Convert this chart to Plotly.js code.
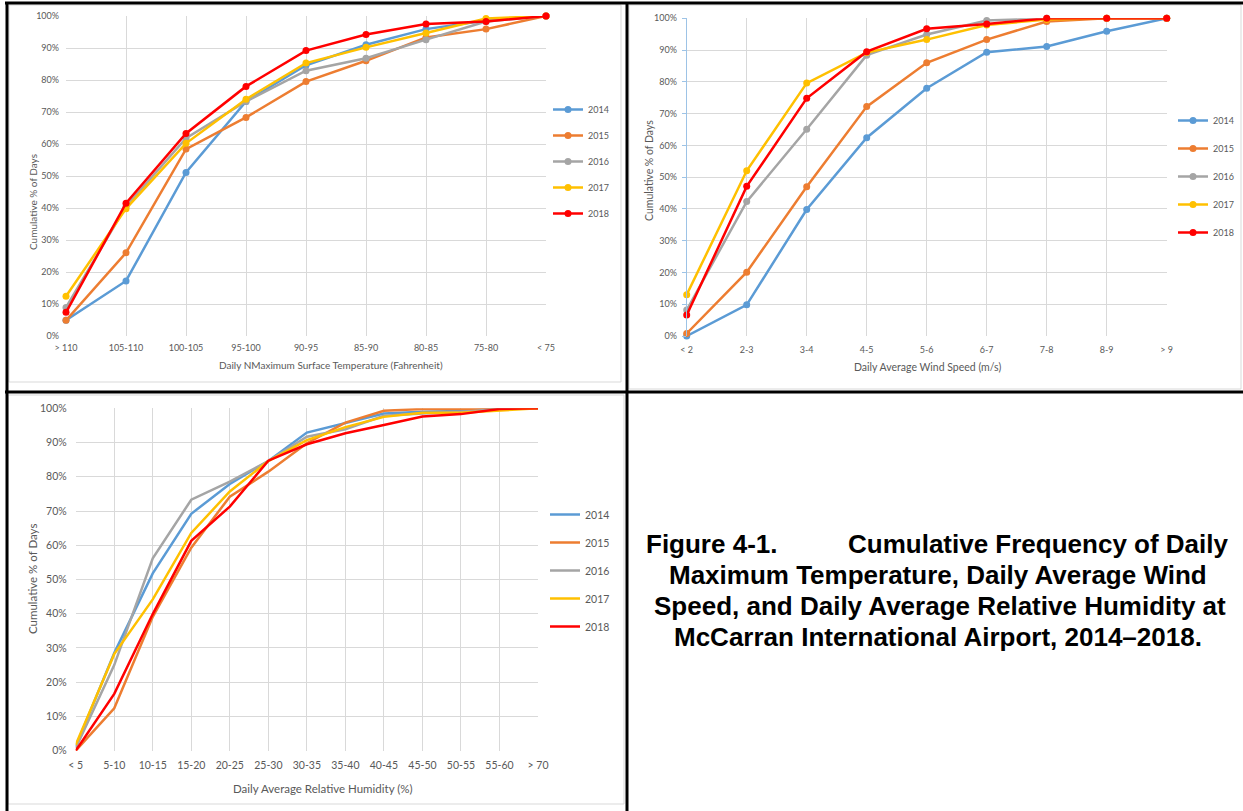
<!DOCTYPE html>
<html><head><meta charset="utf-8">
<script src="https://cdn.plot.ly/plotly-3.0.1.min.js"></script>
<style>html,body{margin:0;padding:0;background:#fff;overflow:hidden;} #chart{width:1243px;height:811px;}</style>
</head><body><div id="chart"></div>
<script>
const years = ['2014','2015','2016','2017','2018'];
const colors = ['#5B9BD5','#ED7D31','#A5A5A5','#FFC000','#FF0000'];

const tempCats = ['> 110','105-110','100-105','95-100','90-95','85-90','80-85','75-80','< 75'];
const temp2014 = [4.9,17.2,51.1,73.3,84.6,91.0,95.9,98.6,100];
const temp2015 = [4.9,26.0,58.4,68.3,79.5,86.0,93.3,95.9,100];
const temp2016 = [8.9,40.5,61.8,73.3,82.9,86.8,92.6,98.3,100];
const temp2017 = [12.4,39.8,60.2,74.0,85.3,90.2,94.7,99.2,100];
const temp2018 = [7.4,41.5,63.3,78.0,89.2,94.2,97.5,98.3,100];

const windCats = ['< 2','2-3','3-4','4-5','5-6','6-7','7-8','8-9','> 9'];
const wind2014 = [0,9.8,39.8,62.4,78.0,89.3,91.1,95.9,100];
const wind2015 = [0.8,20.1,47.0,72.2,86.0,93.3,99.0,100,100];
const wind2016 = [8.2,42.3,65.1,88.4,94.9,99.3,100,100,100];
const wind2017 = [13.0,52.0,79.6,89.2,93.3,97.9,99.6,100,100];
const wind2018 = [6.6,47.1,74.8,89.5,96.7,98.2,100,100,100];

const rhCats = ['< 5','5-10','10-15','15-20','20-25','25-30','30-35','35-40','40-45','45-50','50-55','55-60','> 70'];
const rh2014 = [1.2,28.5,51.8,69.2,77.9,84.6,92.9,95.6,98.5,99.0,99.2,99.8,100];
const rh2015 = [0,12.4,39.1,59.3,74.2,81.5,89.8,95.8,99.3,99.8,99.8,99.8,100];
const rh2016 = [0.7,25.0,56.2,73.3,78.6,84.6,91.7,93.9,97.8,98.5,98.9,99.8,100];
const rh2017 = [1.7,28.2,44.2,63.6,75.7,84.6,90.7,94.5,97.5,98.7,98.7,99.3,100];
const rh2018 = [0,16.6,39.9,61.3,71.3,84.7,89.5,92.7,95.1,97.6,98.3,99.8,100];

const W = 1243, H = 811;
const px = x => x / W;
const py = y => 1 - y / H;
const FONT = 'Lato, Carlito, Calibri, sans-serif';
const TXT = '#595959';
const GRID = '#D9D9D9';

const tempSeries = [temp2014, temp2015, temp2016, temp2017, temp2018];
const windSeries = [wind2014, wind2015, wind2016, wind2017, wind2018];
const rhSeries = [rh2014, rh2015, rh2016, rh2017, rh2018];

const traces = [];
years.forEach((yr, i) => {
  traces.push({x: tempCats, y: tempSeries[i], name: yr, type: 'scatter', mode: 'lines+markers',
    xaxis: 'x', yaxis: 'y', legend: 'legend', legendgroup: 't' + yr, cliponaxis: false,
    line: {color: colors[i], width: 2.5}, marker: {color: colors[i], size: 7}});
});
years.forEach((yr, i) => {
  traces.push({x: windCats, y: windSeries[i], name: yr, type: 'scatter', mode: 'lines+markers',
    xaxis: 'x2', yaxis: 'y2', legend: 'legend2', legendgroup: 'w' + yr, cliponaxis: false,
    line: {color: colors[i], width: 2.5}, marker: {color: colors[i], size: 7}});
});
years.forEach((yr, i) => {
  traces.push({x: rhCats, y: rhSeries[i], name: yr, type: 'scatter', mode: 'lines',
    xaxis: 'x3', yaxis: 'y3', legend: 'legend3', legendgroup: 'h' + yr, cliponaxis: false,
    line: {color: colors[i], width: 2.5}});
});

function xax(domain, n, size, standoff, anchor) {
  return {domain: domain, type: 'category', range: [0, n - 1], anchor: anchor,
    showgrid: true, gridcolor: GRID, gridwidth: 1, zeroline: false, showline: false,
    ticks: '', tickfont: {family: FONT, size: size, color: TXT}, ticklabelstandoff: standoff,
    fixedrange: true};
}
function yax(domain, size, standoff, anchor, extra) {
  return Object.assign({domain: domain, range: [0, 100], dtick: 10, ticksuffix: '%', anchor: anchor,
    showgrid: true, gridcolor: GRID, gridwidth: 1, zeroline: false, showline: false,
    ticks: '', tickfont: {family: FONT, size: size, color: TXT}, ticklabelstandoff: standoff,
    fixedrange: true}, extra || {});
}

function leg(x, y, size, gap) {
  return {x: px(x), y: py(y), xanchor: 'left', yanchor: 'top', bgcolor: 'rgba(0,0,0,0)',
    borderwidth: 0, font: {family: FONT, size: size, color: TXT}, tracegroupgap: gap,
    itemclick: false, itemdoubleclick: false};
}

function ann(text, x, y, size, opts) {
  return Object.assign({text: text, x: px(x), y: py(y), xref: 'paper', yref: 'paper',
    showarrow: false, xanchor: 'center', yanchor: 'middle',
    font: {family: FONT, size: size, color: TXT}}, opts || {});
}
const CAP = {family: 'Liberation Sans, Arial, sans-serif', size: 26, color: '#000000'};

const annotations = [
  ann('Cumulative % of Days', 33, 202, 10, {textangle: -90}),
  ann('Daily NMaximum Surface Temperature (Fahrenheit)', 331, 365, 10),
  ann('Cumulative % of Days', 649, 171, 10.5, {textangle: -90}),
  ann('Daily Average Wind Speed (m/s)', 927, 367, 10.5),
  ann('Cumulative % of Days', 32, 579, 11.5, {textangle: -90}),
  ann('Daily Average Relative Humidity (%)', 323, 788, 11.5),
  ann('<b>Figure 4-1.</b>', 644, 544, 26, {xanchor: 'left', font: CAP}),
  ann('<b>Cumulative Frequency of Daily</b>', 1231, 544, 26, {xanchor: 'right', font: CAP}),
  ann('<b>Maximum Temperature, Daily Average Wind</b>', 938, 575, 26, {font: CAP}),
  ann('<b>Speed, and Daily Average Relative Humidity at</b>', 940, 606, 26, {font: CAP}),
  ann('<b>McCarran International Airport, 2014–2018.</b>', 938, 637, 26, {font: CAP})
];

function rect(x0, y0, x1, y1) {
  return {type: 'rect', xref: 'paper', yref: 'paper', x0: px(x0), x1: px(x1), y0: py(y0), y1: py(y1),
    line: {color: GRID, width: 1}, fillcolor: 'rgba(0,0,0,0)', layer: 'below'};
}
function bline(x0, y0, x1, y1, w) {
  return {type: 'line', xref: 'paper', yref: 'paper', x0: px(x0), x1: px(x1), y0: py(y0), y1: py(y1),
    line: {color: '#000000', width: w}, layer: 'above'};
}
const shapes = [
  rect(9, 5, 621, 382),
  rect(629, 5, 1241, 389),
  rect(8, 395, 624, 804),
  bline(5, 3, 1243, 3, 3),
  bline(7, 2, 7, 811, 3),
  bline(627, 2, 627, 811, 3),
  bline(5, 392, 1243, 392, 3)
];

const layout = {
  width: W, height: H, margin: {l: 0, r: 0, t: 0, b: 0},
  paper_bgcolor: '#ffffff', plot_bgcolor: 'rgba(0,0,0,0)',
  showlegend: true, hovermode: false,
  xaxis: xax([px(66), px(546)], tempCats.length, 9, 5, 'y'),
  yaxis: yax([py(336), py(16)], 9, 6, 'x'),
  xaxis2: xax([px(686.7), px(1166.7)], windCats.length, 9, 7, 'y2'),
  yaxis2: yax([py(336), py(18.3)], 9, 3, 'x2', {showline: true, linecolor: '#9DC3E6', linewidth: 1,
    ticks: 'outside', ticklen: 4, tickcolor: '#9DC3E6'}),
  xaxis3: xax([px(75.7), px(538)], rhCats.length, 10.5, 7, 'y3'),
  yaxis3: yax([py(750.7), py(408.3)], 10.5, 8, 'x3'),
  legend: leg(548, 95, 9, 7),
  legend2: leg(1173, 106, 9, 9),
  legend3: leg(545, 500, 10.5, 9),
  annotations: annotations,
  shapes: shapes
};

Plotly.newPlot('chart', traces, layout, {staticPlot: true, displayModeBar: false});
</script>
</body></html>
